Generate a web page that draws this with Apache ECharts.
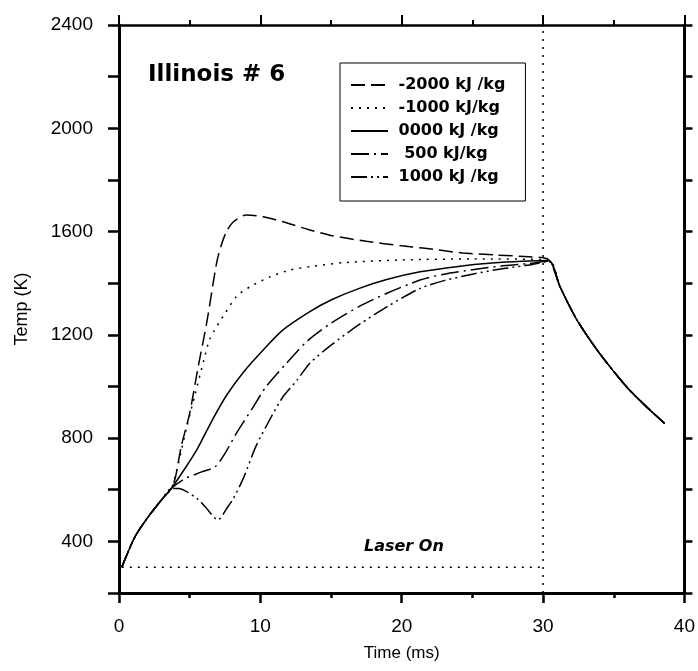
<!DOCTYPE html>
<html>
<head>
<meta charset="utf-8">
<script src="https://cdn.jsdelivr.net/npm/echarts@6/dist/echarts.min.js"></script>
<style>
  html, body { margin: 0; padding: 0; background: #fff; }
  #chart { width: 698px; height: 671px; }
</style>
</head>
<body>
<div id="chart"></div>
<script>
// heating phase shared by every run, then the cooling tail after the laser stops
var tStart = [0.2, 1.1, 2.0, 3.0, 3.7];
var TStart = [300, 415, 490, 560, 605];
var tCool = [31.2, 32.4, 34.0, 35.9, 37.3, 38.6];
var TCool = [1386, 1257, 1128, 999, 922, 857];

// -2000 kJ/kg
var tA = [4.0, 4.4, 5.0, 5.6, 6.2, 6.9, 7.2, 7.6, 8.1, 9.0, 10.2, 11.6, 13.5, 15, 17.5, 20, 21.5, 24.3, 26.7, 29, 30.4];
var TA = [650, 767, 896, 1076, 1245, 1477, 1541, 1600, 1638, 1664, 1657, 1638, 1606, 1585, 1562, 1545, 1536, 1517, 1509, 1502, 1490];
// -1000 kJ/kg
var tB = [4.2, 4.8, 5.4, 6.0, 6.4, 6.9, 7.5, 8.3, 9.3, 10.7, 12.1, 13.5, 16, 20, 25, 30.4];
var TB = [702, 844, 973, 1102, 1180, 1231, 1283, 1348, 1387, 1425, 1451, 1464, 1480, 1490, 1494, 1490];
// 0000 kJ/kg
var tC = [4.7, 5.5, 6.6, 7.6, 8.8, 10.2, 11.6, 13.5, 15, 17, 19, 21.3, 24, 26.4, 28.5, 30.4];
var TC = [685, 754, 870, 965, 1055, 1141, 1219, 1290, 1335, 1380, 1415, 1444, 1465, 1478, 1485, 1488];
// 500 kJ/kg
var tD = [4.7, 5.8, 6.8, 7.5, 8.3, 9.5, 10.4, 11.85, 13.3, 15, 17, 19, 21.3, 23, 25, 27, 29, 30.4];
var TD = [644, 668, 689, 741, 818, 921, 999, 1090, 1175, 1245, 1310, 1362, 1412, 1435, 1452, 1466, 1476, 1486];
// 1000 kJ/kg
var tE = [4.2, 5.5, 6.1, 7.0, 7.7, 8.1, 8.8, 9.7, 10.8, 11.6, 12.6, 13.5, 15, 17, 19, 21.3, 23, 25, 27, 29, 30.4];
var TE = [605, 567, 534, 483, 534, 567, 645, 770, 885, 960, 1025, 1090, 1160, 1240, 1310, 1380, 1410, 1435, 1455, 1470, 1485];

var names = ['-2000 kJ /kg', '-1000 kJ/kg', '0000 kJ /kg', ' 500 kJ/kg', '1000 kJ /kg'];
var dashes = [[14, 6], [2, 6], 'solid', [18, 5, 2, 5], [16, 4, 2, 4, 2, 4]];

var laserT = [0.2, 30];
var laserTemp = [300, 300];
var laserOffT = [30, 30];
var laserOffTemp = [200, 2400];

function zip(t, T) {
    var out = [];
    for (var i = 0; i < t.length; i++) out.push([t[i], T[i]]);
    return out;
}

var runsT = [tA, tB, tC, tD, tE];
var runsTemp = [TA, TB, TC, TD, TE];

var font = 'Liberation Sans';
var boldFont = 'DejaVu Sans';

var series = [];
for (var i = 0; i < 5; i++) {
    series.push({
        name: names[i],
        type: 'line',
        data: zip(tStart.concat(runsT[i], tCool), TStart.concat(runsTemp[i], TCool)),
        showSymbol: false,
        symbol: 'none',
        smooth: 0.25,
        lineStyle: { color: '#000', width: 1.5, type: dashes[i] },
        itemStyle: { color: '#000' },
        z: 5
    });
}
series.push({
    name: 'laser',
    type: 'line',
    data: zip(laserT, laserTemp),
    symbol: 'none',
    lineStyle: { color: '#000', width: 1.5, type: [2, 6] }
});
series.push({
    name: 'laserOff',
    type: 'line',
    data: zip(laserOffT, laserOffTemp),
    symbol: 'none',
    lineStyle: { color: '#000', width: 1.5, type: [2, 6] }
});

var myChart = echarts.init(document.getElementById('chart'));

myChart.setOption({
    animation: false,
    backgroundColor: '#fff',
    textStyle: { fontFamily: font },
    grid: { left: 119, right: 13, top: 25, bottom: 78, containLabel: false },
    legend: {
        data: names,
        orient: 'vertical',
        left: 340,
        top: 63,
        padding: [14, 20, 16, 10],
        itemGap: 7,
        itemWidth: 37,
        itemHeight: 14,
        borderColor: '#000',
        borderWidth: 1,
        itemStyle: { opacity: 0 },
        formatter: function(n) { return ' ' + n; },
        textStyle: { fontFamily: boldFont, fontSize: 16, lineHeight: 16, fontWeight: 'bold', color: '#000' }
    },
    xAxis: [{
        type: 'value',
        min: 0,
        max: 40,
        interval: 10,
        name: 'Time (ms)',
        nameLocation: 'middle',
        nameGap: 52,
        nameTextStyle: { fontFamily: font, fontSize: 17, color: '#000' },
        axisLine: { show: true, onZero: false, lineStyle: { color: '#000', width: 3 } },
        axisTick: { show: true, inside: false, length: 10, lineStyle: { color: '#000', width: 2.5 } },
        minorTick: { show: true, splitNumber: 2, length: 5, lineStyle: { color: '#000', width: 2.5 } },
        axisLabel: { fontFamily: font, fontSize: 19, color: '#000', margin: 24 },
        splitLine: { show: false }
    }, {
        type: 'value',
        position: 'top',
        min: 0,
        max: 40,
        interval: 10,
        axisLine: { show: true, onZero: false, lineStyle: { color: '#000', width: 2.5 } },
        axisTick: { show: true, inside: false, length: 10, lineStyle: { color: '#000', width: 2 } },
        minorTick: { show: true, splitNumber: 2, length: 5, lineStyle: { color: '#000', width: 2 } },
        axisLabel: { show: false },
        splitLine: { show: false }
    }],
    yAxis: [{
        type: 'value',
        min: 200,
        max: 2400,
        interval: 200,
        name: 'Temp (K)',
        nameLocation: 'middle',
        nameGap: 88,
        nameTextStyle: { fontFamily: font, fontSize: 18, color: '#000' },
        axisLine: { show: true, onZero: false, lineStyle: { color: '#000', width: 3 } },
        axisTick: { show: true, inside: false, length: 11, lineStyle: { color: '#000', width: 2.5 } },
        axisLabel: {
            fontFamily: font, fontSize: 19, color: '#000', margin: 26,
            formatter: function(v) { return (v >= 400 && v % 400 === 0) ? String(v) : ''; }
        },
        splitLine: { show: false }
    }, {
        type: 'value',
        position: 'right',
        min: 200,
        max: 2400,
        interval: 200,
        axisLine: { show: true, onZero: false, lineStyle: { color: '#000', width: 3 } },
        axisTick: { show: true, inside: false, length: 8, lineStyle: { color: '#000', width: 2.5 } },
        axisLabel: { show: false },
        splitLine: { show: false }
    }],
    graphic: [{
        type: 'text',
        left: 148,
        top: 64,
        style: { text: 'Illinois # 6', fontFamily: boldFont, fontSize: 23, fontWeight: 'bold', fill: '#000' }
    }, {
        type: 'text',
        left: 364,
        top: 539,
        style: { text: 'Laser On', fontFamily: boldFont, fontSize: 16, fontWeight: 'bold', fontStyle: 'italic', fill: '#000' }
    }],
    series: series
});
</script>
</body>
</html>
